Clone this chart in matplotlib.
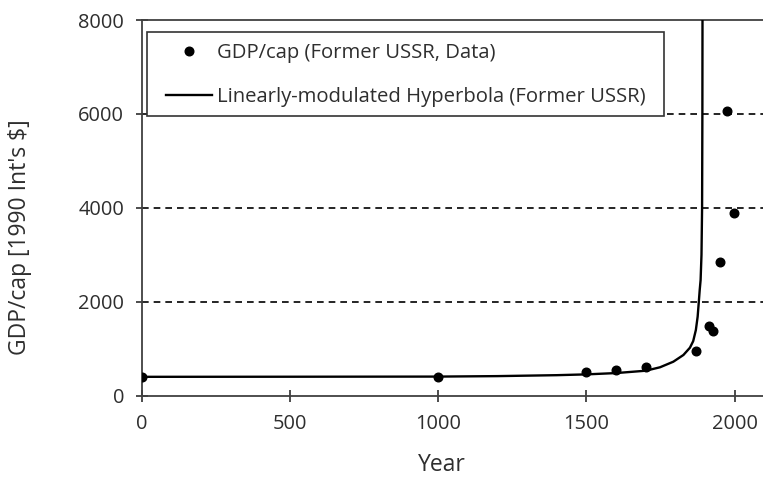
import matplotlib
matplotlib.use("Agg")
import matplotlib.pyplot as plt
import matplotlib.lines as mlines
from matplotlib.patches import Rectangle

# ── data ───────────────────────────────────────────────────────────────────────
# Maddison GDP per capita, Former USSR (1990 Int'l $)
years_data = [0, 1000, 1500, 1600, 1700, 1870, 1913, 1928, 1950, 1973, 1998]
gdp_data   = [400, 400, 500, 553, 611, 943, 1488, 1370, 2841, 6059, 3893]

years_fit = [0, 500, 1000, 1200, 1400, 1500, 1600, 1700, 1748, 1793, 1827,
             1849, 1860, 1869, 1875, 1879, 1882, 1885, 1888, 1890, 1891, 1891.5]
gdp_fit   = [400, 402, 405, 415, 435, 452, 480, 530, 603, 722, 865,
             1020, 1160, 1397, 1680, 2000, 2250, 2460, 3000, 4000, 6000, 8500]

# ── style ──────────────────────────────────────────────────────────────────────
INK = "#2e2e2e"
plt.rcParams.update({
    "font.family": "Open Sans",
    "font.size": 14.4,
    "text.color": INK,
    "axes.labelcolor": INK,
    "axes.labelsize": 16.5,
    "xtick.color": INK,
    "ytick.color": INK,
    "legend.fontsize": 14.6,
})

W, H = 763, 479
fig = plt.figure(figsize=(W / 100, H / 100), dpi=100)
x0, x1 = 141.7, 141.7 + 2100 * 0.2965
y0, y1 = 395.6, 20.0
ax = fig.add_axes([x0 / W, 1 - y0 / H, (x1 - x0) / W, (y0 - y1) / H])

for y in (2000, 4000, 6000):
    ax.axhline(y, color="black", lw=1.2, ls=(0, (4, 3)), zorder=1)

ax.plot(years_fit, gdp_fit, color="black", lw=1.7, zorder=3,
        solid_joinstyle="round")
ax.plot(years_data, gdp_data, "o", color="black", ms=6.2, zorder=4)

ax.set_xlim(0, 2100)
ax.set_ylim(0, 8000)
ax.set_xticks([0, 500, 1000, 1500, 2000])
ax.set_yticks([0, 2000, 4000, 6000, 8000])
ax.tick_params(direction="inout", length=9, width=1.2)
ax.tick_params(axis="x", pad=9)
ax.tick_params(axis="y", pad=8)
ax.spines["right"].set_visible(False)
for s in ax.spines.values():
    s.set_color("#404040")
    s.set_linewidth(1.3)

ax.set_xlabel("Year")
ax.set_ylabel("GDP/cap [1990 Int's $]")
ax.xaxis.set_label_coords((442 - x0) / (x1 - x0), (y0 - 465) / (y0 - y1),
                          transform=ax.transAxes)
ax.xaxis.label.set_va("center")
ax.yaxis.set_label_coords((20 - x0) / (x1 - x0), (y0 - 237.5) / (y0 - y1),
                          transform=ax.transAxes)
ax.yaxis.label.set_va("center")

# ── legend: frame drawn as its own box, entries placed inside ─────────────────
bx0, by0, bx1, by1 = 146.7, 31.7, 664.0, 116.0
ax.add_patch(Rectangle((bx0 / W, 1 - by1 / H), (bx1 - bx0) / W, (by1 - by0) / H,
                       transform=fig.transFigure, facecolor="white",
                       edgecolor="#333333", lw=1.2, zorder=4.5, clip_on=False))

h_dot = mlines.Line2D([], [], color="black", marker="o", ls="none", ms=6.2)
h_line = mlines.Line2D([], [], color="black", lw=1.7)
leg = ax.legend([h_dot, h_line],
                ["GDP/cap (Former USSR, Data)",
                 "Linearly-modulated Hyperbola (Former USSR)"],
                loc="upper left",
                bbox_to_anchor=(166 / W, 1 - 43.5 / H),
                bbox_transform=fig.transFigure,
                borderaxespad=0, borderpad=0, frameon=False,
                handlelength=2.25, handletextpad=0.25,
                labelspacing=1.15, numpoints=1)
leg.set_zorder(5)

fig.savefig("out.png", dpi=100)
